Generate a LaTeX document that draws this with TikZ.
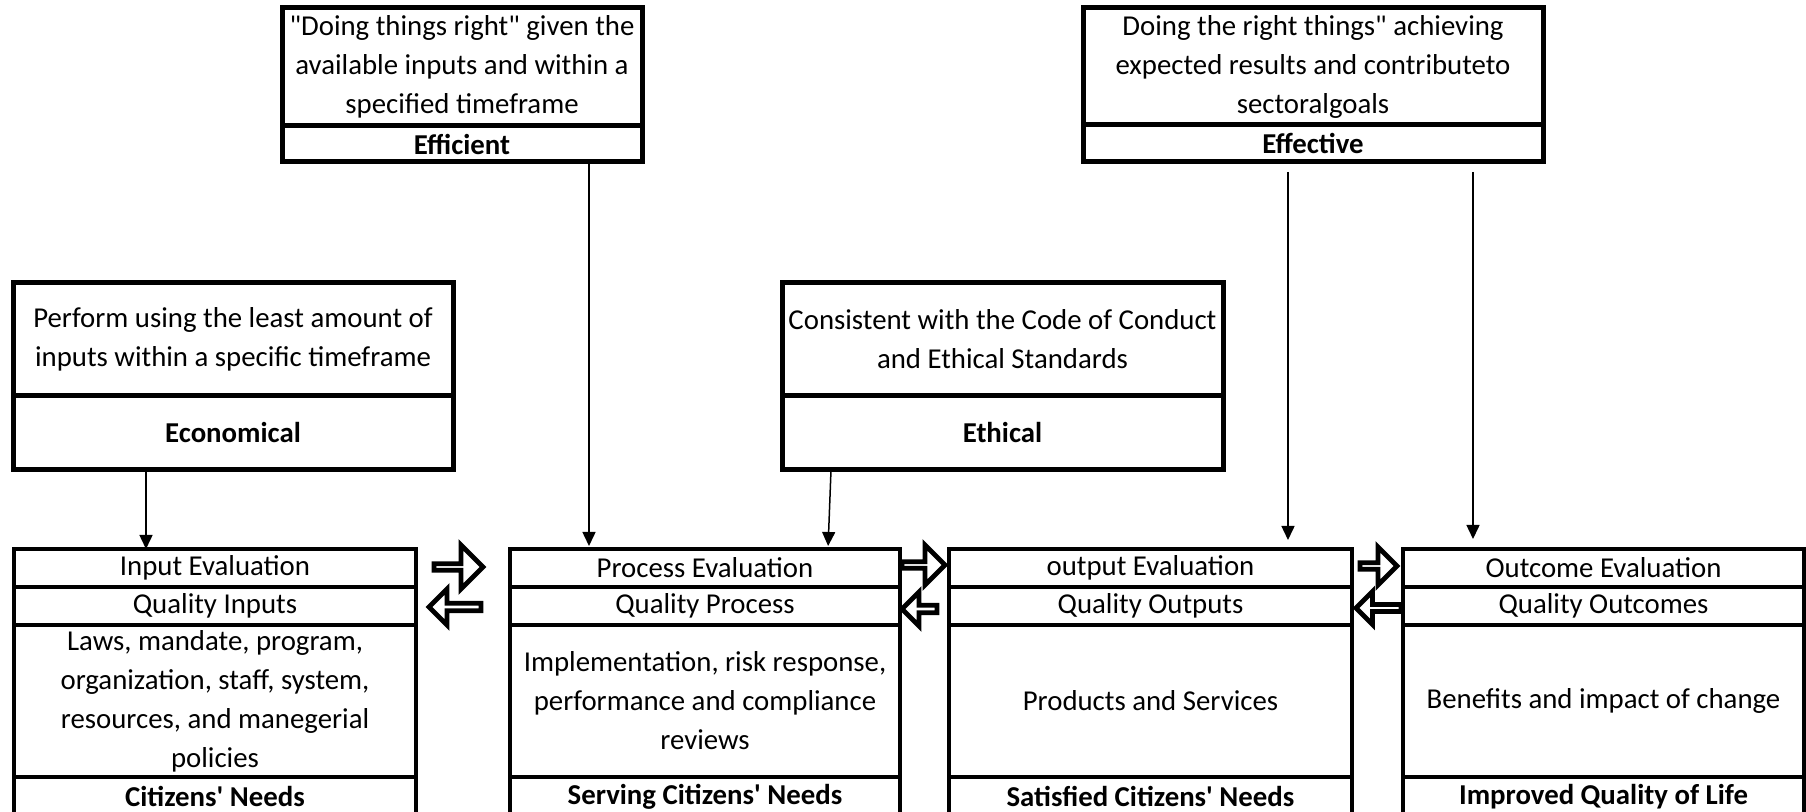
\documentclass[tikz,border=0pt]{standalone}
\usepackage{fontspec}
\setmainfont{Carlito}[Ligatures=TeXOff]
\usetikzlibrary{arrows.meta,positioning,shapes.arrows}
\newcommand{\cellfont}{\fontsize{14.4}{19.5}\selectfont}

\begin{document}
\begin{tikzpicture}[x=0.5pt, y=-0.5pt,
    every node/.style = {align=center, inner sep=0pt, outer sep=0pt,
      font=\cellfont},
    >={Triangle[length=7pt,width=6.5pt]}]
    \tikzstyle{cell}=[draw, line width=1.6pt]
    \tikzstyle{goal}=[draw, line width=2.5pt]
    \tikzstyle{head}=[font=\cellfont\bfseries]
    \tikzstyle{link}=[->, line width=0.75pt]
    \tikzstyle{flow}=[single arrow, draw, line width=2.4pt,
      single arrow head indent=0pt]
    \useasboundingbox (0,0) rectangle (1806,812);
    \clip (0,0) rectangle (1806,812);

    % criteria on top
    \node[goal, anchor=north west, minimum width=180pt, minimum height=59pt] (efftext) at (282,8)
      {"Doing things right" given the\\ available inputs and within a\\ specified timeframe};
    \node[goal, head, below=0pt of efftext, minimum width=180pt, minimum height=18pt] (eff) {Efficient};
    \node[goal, anchor=north west, minimum width=230pt, minimum height=58.5pt] (efvtext) at (1083,8)
      {Doing the right things" achieving\\ expected results and contributeto\\ sectoralgoals};
    \node[goal, head, below=0pt of efvtext, minimum width=230pt, minimum height=18.5pt] (efv) {Effective};
    \node[goal, anchor=north west, minimum width=220pt, minimum height=56.5pt] (ecotext) at (13,283)
      {Perform using the least amount of\\ inputs within a specific timeframe};
    \node[goal, head, below=0pt of ecotext, minimum width=220pt, minimum height=37pt] (eco) {Economical};
    \node[goal, anchor=north west, minimum width=220.5pt, minimum height=56.5pt] (ethtext) at (782,283)
      {Consistent with the Code of Conduct\\ and Ethical Standards};
    \node[goal, head, below=0pt of ethtext, minimum width=220.5pt, minimum height=37pt] (eth) {Ethical};

    % input column
    \node[cell, anchor=north west, minimum width=201pt, minimum height=19pt] (in1) at (14,549) {Input Evaluation};
    \node[cell, below=0pt of in1, minimum width=201pt, minimum height=19pt] (in2) {Quality Inputs};
    \node[cell, below=0pt of in2, minimum width=201pt, minimum height=76pt] (in3)
      {Laws, mandate, program,\\ organization, staff, system,\\ resources, and manegerial\\ policies};
    \node[cell, head, below=0pt of in3, minimum width=201pt, minimum height=19.5pt] (in4) {Citizens' Needs};

    % process column
    \node[cell, anchor=north west, minimum width=195pt, minimum height=19pt] (pr1) at (510,549) {Process Evaluation};
    \node[cell, below=0pt of pr1, minimum width=195pt, minimum height=19pt] (pr2) {Quality Process};
    \node[cell, below=0pt of pr2, minimum width=195pt, minimum height=76pt] (pr3)
      {Implementation, risk response,\\ performance and compliance\\ reviews};
    \node[cell, head, below=0pt of pr3, minimum width=195pt, minimum height=19.5pt] (pr4) {Serving Citizens' Needs};

    % output column
    \node[cell, anchor=north west, minimum width=201.5pt, minimum height=19pt] (ou1) at (949,549) {output Evaluation};
    \node[cell, below=0pt of ou1, minimum width=201.5pt, minimum height=19pt] (ou2) {Quality Outputs};
    \node[cell, below=0pt of ou2, minimum width=201.5pt, minimum height=76pt] (ou3) {Products and Services};
    \node[cell, head, below=0pt of ou3, minimum width=201.5pt, minimum height=19.5pt] (ou4) {Satisfied Citizens' Needs};

    % outcome column
    \node[cell, anchor=north west, minimum width=200.5pt, minimum height=19pt] (oc1) at (1403,549) {Outcome Evaluation};
    \node[cell, below=0pt of oc1, minimum width=200.5pt, minimum height=19pt] (oc2) {Quality Outcomes};
    \node[cell, below=0pt of oc2, minimum width=200.5pt, minimum height=76pt] (oc3) {Benefits and impact of change};
    \node[cell, head, below=0pt of oc3, minimum width=200.5pt, minimum height=19.5pt] (oc4) {Improved Quality of Life};

    % block arrows between columns
    \node[flow, anchor=tail, minimum height=24.5pt, minimum width=22pt, single arrow head extend=6.75pt] (fw1) at (434,567) {};
    \node[flow, shape border rotate=180, anchor=tail, minimum height=26pt, minimum width=18pt, single arrow head extend=4.5pt] (bk1) at (481,607) {};
    \node[flow, anchor=tail, minimum height=21.5pt, minimum width=20pt, single arrow head extend=6.25pt] (fw2) at (902,565) {};
    \node[flow, shape border rotate=180, anchor=tail, minimum height=17.5pt, minimum width=17pt, single arrow head extend=4.25pt] (bk2) at (937,609) {};
    \node[flow, anchor=tail, minimum height=18.5pt, minimum width=19pt, single arrow head extend=6pt] (fw3) at (1360,566) {};
    \node[flow, shape border rotate=180, anchor=tail, minimum height=22.5pt, minimum width=16.5pt, single arrow head extend=4.5pt] (bk3) at (1401,608) {};

    % criteria to stages
    \draw[link] (eco.south -| 146,0) -- (in1.north -| 146,0);
    \draw[link, shorten >=1.5pt] (eff.south -| 589,0) -- (pr1.north -| 589,0);
    \draw[link, shorten >=1.5pt] (eth.south -| 831,0) -- (pr1.north -| 828,0);
    \draw[link, shorten <=5pt, shorten >=4.5pt] (efv.south -| 1288,0) -- (ou1.north -| 1288,0);
    \draw[link, shorten <=5pt, shorten >=5pt] (efv.south -| 1473,0) -- (oc1.north -| 1473,0);
\end{tikzpicture}
\end{document}
